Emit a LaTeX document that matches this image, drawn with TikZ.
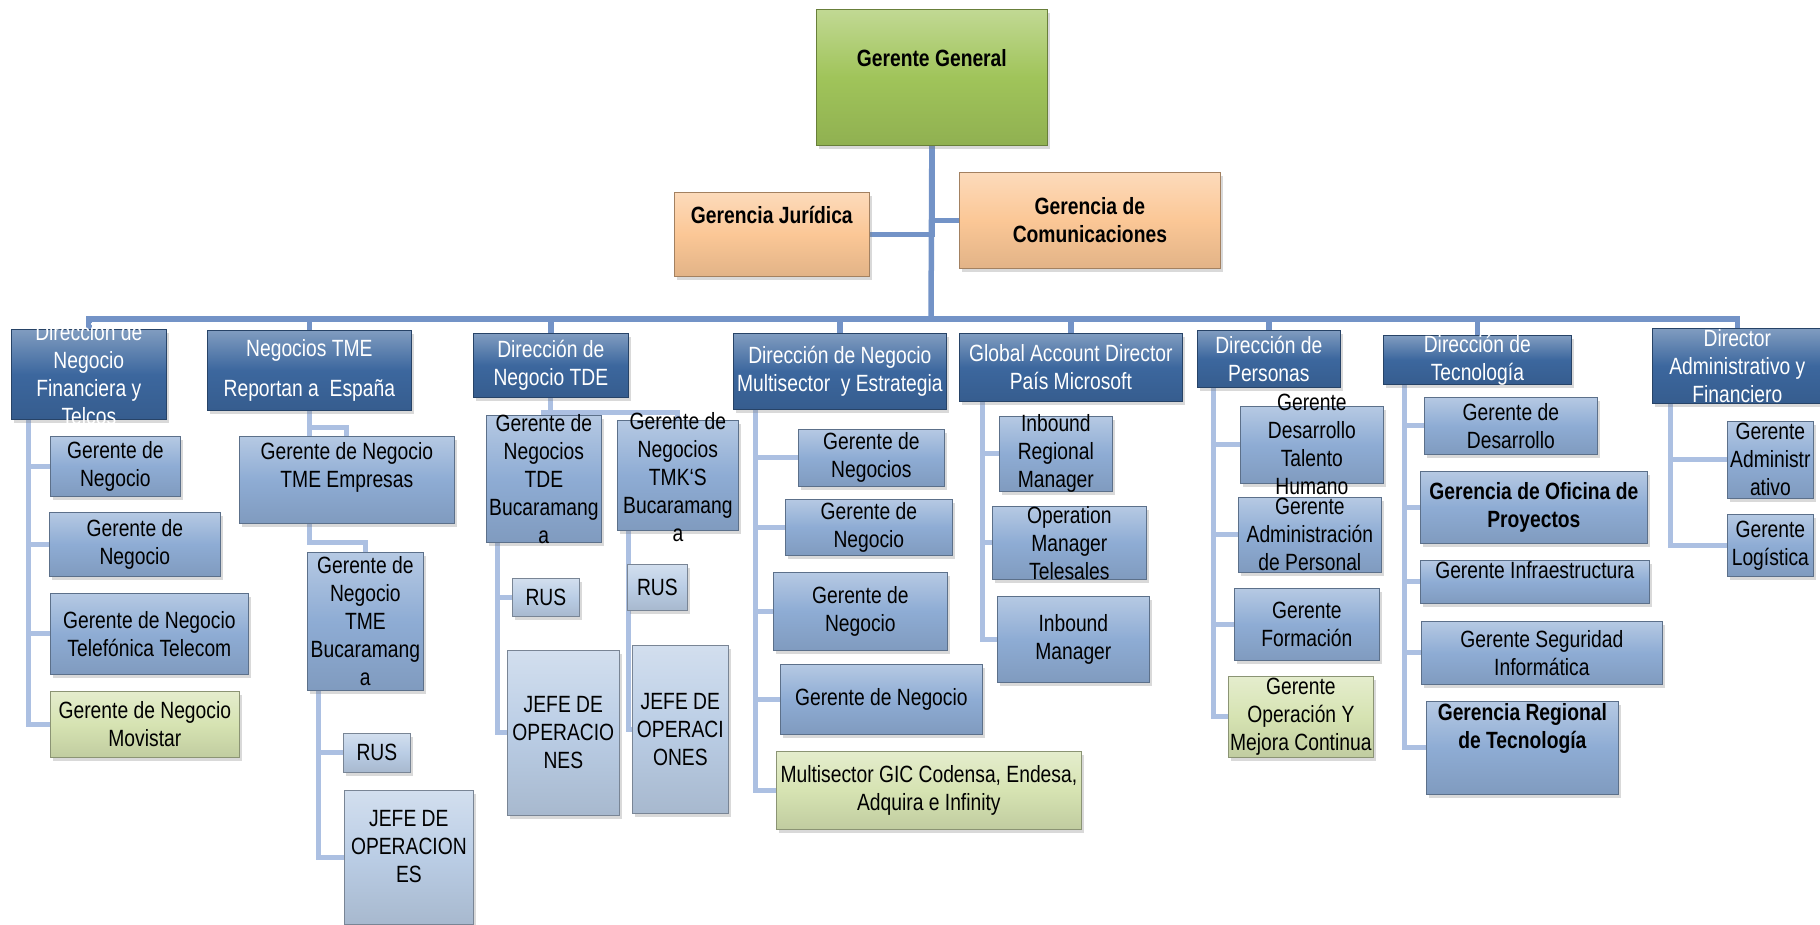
\documentclass[tikz,border=0pt]{standalone}
\usepackage{fontspec}
\setmainfont{Liberation Sans}[FakeStretch=0.82]
\usetikzlibrary{shadows, backgrounds}
\definecolor{ggreen}{RGB}{160,196,90}
\definecolor{staffor}{RGB}{251,199,150}
\definecolor{dirblue}{RGB}{60,103,158}
\definecolor{mgrblue}{RGB}{142,172,212}
\definecolor{palblue}{RGB}{186,205,229}
\definecolor{lgreen}{RGB}{214,227,178}
\definecolor{toplink}{RGB}{115,147,199}
\definecolor{sublink}{RGB}{172,192,226}
\tikzset{
  orgbox/.style={
    draw=#1!65!black,
    line width=0.7pt,
    top color=#1!65!white,
    bottom color=#1!90!black,
    middle color=#1,
    inner sep=0pt,
    anchor=north west,
    drop shadow={opacity=0.3, shadow xshift=3pt, shadow yshift=-4pt}
  },
  dims/.style 2 args={minimum width=#1pt, minimum height=#2pt},
  gg box/.style={orgbox=ggreen},
  staff box/.style={orgbox=staffor},
  dir box/.style={orgbox=dirblue},
  mgr box/.style={orgbox=mgrblue},
  pal box/.style={orgbox=palblue},
  lg box/.style={orgbox=lgreen},
  txt/.style={
    font=\fontsize{23.5}{28}\selectfont,
    align=center,
    inner sep=0pt,
    text=black
  },
  wtxt/.style={txt, text=white},
  btxt/.style={txt, font=\bfseries\fontsize{23.5}{28}\selectfont},
  toplink/.style={draw=toplink, line width=5.5pt},
  sublink/.style={draw=sublink, line width=5pt}
}
\begin{document}
\begin{tikzpicture}[x=1pt, y=-1pt]
  \useasboundingbox (0,0) rectangle (1820,924);

  % Gerencia general y staff
  \node[gg box, dims={231}{136}, label={[btxt, yshift=19pt]center:{Gerente General}}] (gg) at (816,9) {};
  \node[staff box, dims={195}{84}, label={[btxt, yshift=19pt]center:{Gerencia Jurídica}}] (jur) at (674,192) {};
  \node[staff box, dims={261}{96}, label={[btxt]center:{Gerencia de\\Comunicaciones}}] (com) at (959,172) {};

  % Direcciones
  \node[dir box, dims={155}{90}, label={[wtxt]center:{Dirección de\\Negocio\\Financiera y\\Telcos}}] (dfin) at (11,329) {};
  \node[dir box, dims={204}{80}, label={[wtxt]center:{Negocios TME\\[12pt]Reportan a\ \ España}}] (tme) at (207,330) {};
  \node[dir box, dims={155}{64}, label={[wtxt]center:{Dirección de\\Negocio TDE}}] (tde) at (473,333) {};
  \node[dir box, dims={213}{76}, label={[wtxt]center:{Dirección de Negocio\\Multisector\ \ y Estrategia}}] (mult) at (733,333) {};
  \node[dir box, dims={223}{68}, label={[wtxt]center:{Global Account Director\\País Microsoft}}] (gad) at (959,333) {};
  \node[dir box, dims={143}{57}, label={[wtxt]center:{Dirección de\\Personas}}] (pers) at (1197,330) {};
  \node[dir box, dims={188}{49}, label={[wtxt]center:{Dirección de\\Tecnología}}] (tec) at (1383,335) {};
  \node[dir box, dims={170}{75}, label={[wtxt]center:{Director\\Administrativo y\\Financiero}}] (adm) at (1652,328) {};

  % Financiera y Telcos
  \node[mgr box, dims={130}{60}, label={[txt]center:{Gerente de\\Negocio}}] (fin1) at (50,436) {};
  \node[mgr box, dims={171}{64}, label={[txt]center:{Gerente de\\Negocio}}] (fin2) at (49,512) {};
  \node[mgr box, dims={198}{81}, label={[txt]center:{Gerente de Negocio\\Telefónica Telecom}}] (fin3) at (50,593) {};
  \node[lg box, dims={189}{66}, label={[txt]center:{Gerente de Negocio\\Movistar}}] (fin4) at (50,691) {};

  % TME
  \node[mgr box, dims={215}{87}, label={[txt, yshift=12pt]center:{Gerente de Negocio\\TME Empresas}}] (tme1) at (239,436) {};
  \node[mgr box, dims={116}{138}, label={[txt]center:{Gerente de\\Negocio\\TME\\Bucaramang\\a}}] (tme2) at (307,552) {};
  \node[pal box, dims={67}{39}, label={[txt]center:{RUS}}] (tme2rus) at (343,733) {};
  \node[pal box, dims={129}{134}, label={[txt, yshift=11pt]center:{JEFE DE\\OPERACION\\ES}}] (tme2jefe) at (344,790) {};

  % TDE
  \node[mgr box, dims={115}{127}, label={[txt]center:{Gerente de\\Negocios\\TDE\\Bucaramang\\a}}] (tde1) at (486,415) {};
  \node[mgr box, dims={121}{110}, label={[txt, yshift=-2pt]center:{Gerente de\\Negocios\\TMK\symbol{96}S\\Bucaramang\\a}}] (tde2) at (617,420) {};
  \node[pal box, dims={67}{38}, label={[txt]center:{RUS}}] (tde1rus) at (512,578) {};
  \node[pal box, dims={112}{165}, label={[txt]center:{JEFE DE\\OPERACIO\\NES}}] (tde1jefe) at (507,650) {};
  \node[pal box, dims={60}{46}, label={[txt]center:{RUS}}] (tde2rus) at (627,564) {};
  \node[pal box, dims={96}{168}, label={[txt]center:{JEFE DE\\OPERACI\\ONES}}] (tde2jefe) at (632,645) {};

  % Multisector y Estrategia
  \node[mgr box, dims={146}{57}, label={[txt]center:{Gerente de\\Negocios}}] (mul1) at (798,429) {};
  \node[mgr box, dims={167}{56}, label={[txt]center:{Gerente de\\Negocio}}] (mul2) at (785,499) {};
  \node[mgr box, dims={174}{78}, label={[txt]center:{Gerente de\\Negocio}}] (mul3) at (773,572) {};
  \node[mgr box, dims={202}{70}, label={[txt]center:{Gerente de Negocio}}] (mul4) at (780,664) {};
  \node[lg box, dims={305}{78}, label={[txt]center:{Multisector GIC Codensa, Endesa,\\Adquira e Infinity}}] (mul5) at (776,751) {};

  % Microsoft
  \node[mgr box, dims={113}{75}, label={[txt]center:{Inbound\\Regional\\Manager}}] (gad1) at (999,416) {};
  \node[mgr box, dims={154}{73}, label={[txt]center:{Operation\\Manager\\Telesales}}] (gad2) at (992,506) {};
  \node[mgr box, dims={152}{86}, label={[txt]center:{Inbound\\Manager}}] (gad3) at (997,596) {};

  % Personas
  \node[mgr box, dims={143}{77}, label={[txt]center:{Gerente\\Desarrollo\\Talento\\Humano}}] (per1) at (1240,406) {};
  \node[mgr box, dims={143}{75}, label={[txt]center:{Gerente\\Administración\\de Personal}}] (per2) at (1238,497) {};
  \node[mgr box, dims={145}{72}, label={[txt]center:{Gerente\\Formación}}] (per3) at (1234,588) {};
  \node[lg box, dims={145}{81}, label={[txt]center:{Gerente\\Operación Y\\Mejora Continua}}] (per4) at (1228,676) {};

  % Tecnologia
  \node[mgr box, dims={173}{57}, label={[txt]center:{Gerente de\\Desarrollo}}] (tec1) at (1424,397) {};
  \node[mgr box, dims={227}{72}, label={[btxt]center:{Gerencia de Oficina de\\Proyectos}}] (tec2) at (1420,471) {};
  \node[mgr box, dims={229}{43}, label={[txt, yshift=12pt]center:{Gerente Infraestructura}}] (tec3) at (1420,560) {};
  \node[mgr box, dims={241}{63}, label={[txt]center:{Gerente Seguridad\\Informática}}] (tec4) at (1421,621) {};
  \node[mgr box, dims={192}{93}, label={[btxt, yshift=19pt]center:{Gerencia Regional\\de Tecnología}}] (tec5) at (1426,701) {};

  % Administrativo
  \node[mgr box, dims={86}{77}, label={[txt]center:{Gerente\\Administr\\ativo}}] (adm1) at (1727,421) {};
  \node[mgr box, dims={86}{62}, label={[txt]center:{Gerente\\Logística}}] (adm2) at (1727,514) {};

  % Conectores
  \begin{scope}[on background layer]
    \coordinate (bar) at (931,319);
    \draw[toplink] (gg.south) -- (bar);
    \draw[toplink] (gg.south) |- (jur.east);
    \draw[toplink] (gg.south) |- (com.west);
    \foreach \d in {dfin,tme,tde,mult,gad,pers,tec,adm}
      \draw[toplink] (bar) -| (\d.north);

    \foreach \c in {fin1,fin2,fin3,fin4}
      \draw[sublink] ([xshift=17pt]dfin.south west) |- (\c.west);
    \draw[sublink] (tme.south) -- ++(0,17) -| (tme1.north);
    \draw[sublink] (tme.south) -- ++(0,132) -| (tme2.north);
    \foreach \c in {tme2rus,tme2jefe}
      \draw[sublink] ([xshift=11pt]tme2.south west) |- (\c.west);
    \foreach \c in {tde1,tde2}
      \draw[sublink] (tde.south) -- ++(0,15) -| (\c.north);
    \foreach \c in {tde1rus,tde1jefe}
      \draw[sublink] ([xshift=11pt]tde1.south west) |- (\c.west);
    \foreach \c in {tde2rus,tde2jefe}
      \draw[sublink] ([xshift=11pt]tde2.south west) |- (\c.west);
    \foreach \c in {mul1,mul2,mul3,mul4,mul5}
      \draw[sublink] ([xshift=22pt]mult.south west) |- (\c.west);
    \foreach \c in {gad1,gad2,gad3}
      \draw[sublink] ([xshift=23pt]gad.south west) |- (\c.west);
    \foreach \c in {per1,per2,per3,per4}
      \draw[sublink] ([xshift=16pt]pers.south west) |- (\c.west);
    \foreach \c in {tec1,tec2,tec3,tec4,tec5}
      \draw[sublink] ([xshift=21pt]tec.south west) |- (\c.west);
    \foreach \c in {adm1,adm2}
      \draw[sublink] ([xshift=18pt]adm.south west) |- (\c.west);
  \end{scope}
\end{tikzpicture}
\end{document}
